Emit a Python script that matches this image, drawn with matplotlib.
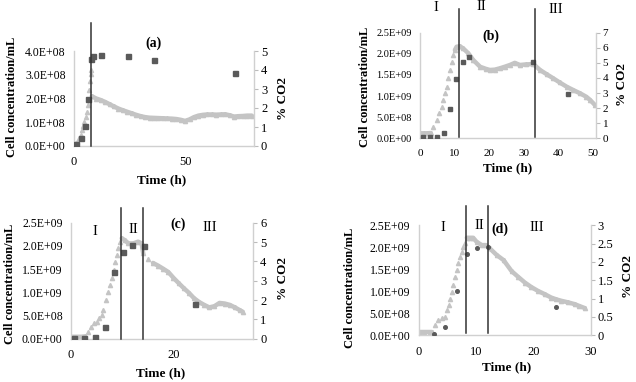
import matplotlib
matplotlib.use("Agg")
import matplotlib.pyplot as plt

plt.rcParams['font.family'] = ['Liberation Serif', 'DejaVu Serif']

# ---------------- data ----------------
# panel (a)
cell_a_t = [0.8, 3.0, 5.0, 6.2, 7.7, 8.7, 12.0, 24.2, 36.2, 72.3]
cell_a_v = [0.08e8, 0.32e8, 0.84e8, 1.98e8, 3.65e8, 3.79e8, 3.83e8, 3.80e8, 3.63e8, 3.09e8]
co2_a_t = [0, 1.2, 2.3, 3.0, 3.8, 4.2, 4.7, 5.3, 5.7, 6.2, 6.6, 6.9, 7.2, 7.5, 7.7,
           8, 10, 12, 14, 16, 18, 20, 22, 24, 26, 28, 30, 32, 34, 36, 38, 40, 42, 44, 46, 48,
           50, 52, 54, 56, 58, 60, 62, 64, 66, 68, 70, 72, 74, 76, 78, 80]
co2_a_v = [0.14, 0.23, 0.4, 0.58, 0.84, 1.05, 1.28, 1.54, 1.8, 2.16, 2.42, 2.95, 3.4, 3.8, 4.0,
           2.62, 2.5, 2.42, 2.32, 2.2, 2.08, 1.97, 1.88, 1.8, 1.72, 1.64,
           1.57, 1.52, 1.49, 1.48, 1.47, 1.46, 1.45, 1.44, 1.42, 1.38,
           1.32, 1.4, 1.52, 1.6, 1.64, 1.66, 1.66, 1.65, 1.66, 1.67,
           1.62, 1.55, 1.57, 1.58, 1.6, 1.6]

# panel (b)
cell_b_t = [0.7, 2.8, 4.7, 6.8, 8.6, 10.3, 12.2, 14.2, 32.6, 42.6]
cell_b_v = [0.02e9, 0.02e9, 0.04e9, 0.12e9, 0.69e9, 1.40e9, 1.81e9, 1.92e9, 1.80e9, 1.05e9]
co2_b_t = [0, 1, 2, 3, 3.8, 4.7, 5.5, 6.2, 6.6, 7.1, 7.6, 8.1, 8.6, 9.1, 9.5, 10.0, 10.5,
           11.4, 12.4, 13.9, 15.3, 17.3, 19, 20.1, 21.5, 23, 24.5,
           25.9, 27.3, 28.8, 30.6, 32.7, 34.6, 36.5, 38.4, 40.3, 42.3,
           44.2, 46.2, 48, 49.1, 50.5]
co2_b_v = [0.33, 0.33, 0.33, 0.35, 0.77, 1.21, 1.66, 2.1, 2.54, 2.98, 3.42, 3.98, 4.53, 5.08, 5.52, 5.85, 6.07,
           6.1, 5.96, 5.63, 5.19, 4.74, 4.6, 4.53, 4.55, 4.64, 4.75,
           4.86, 5.0, 4.86, 4.9, 4.92, 4.53, 4.25, 3.98, 3.7, 3.42,
           3.2, 2.98, 2.75, 2.54, 2.2]

# panel (c)
cell_c_t = [0.5, 2.5, 4.6, 6.6, 8.4, 10.1, 12.0, 14.3, 24.2]
cell_c_v = [0.01e9, 0.01e9, 0.04e9, 0.245e9, 1.43e9, 1.875e9, 2.02e9, 2.0e9, 0.75e9]
co2_c_t = [0, 1, 2, 2.7, 3.4, 4.0, 4.4, 5.0, 5.5, 6.0, 6.3, 6.8, 7.3, 7.6,
           7.95, 8.3, 8.6, 8.9, 9.2, 9.6, 9.9, 10.5, 11.2, 12.2,
           13.1, 13.8, 14.1, 15.0, 16, 17, 18, 19, 20, 21,
           22, 23, 24, 25, 26, 27, 28, 29, 30, 31, 32, 33, 33.5]
co2_c_v = [0.1, 0.1, 0.1, 0.12, 0.36, 0.62, 0.8, 0.88, 1.05, 1.23, 1.48, 2.0, 2.43, 2.78,
           3.12, 3.55, 3.98, 4.33, 4.68, 5.02, 5.19, 5.1, 4.93, 4.93,
           5.02, 4.93, 4.42, 4.1, 3.92, 3.78, 3.62, 3.45, 3.15, 2.88,
           2.62, 2.38, 2.1, 1.9, 1.75, 1.62, 1.68, 1.85, 1.82, 1.75, 1.62, 1.47, 1.4]

# panel (d)
cell_d_t = [2.7, 4.6, 6.6, 8.4, 10.1, 12.0, 23.9]
cell_d_v = [0.03e9, 0.18e9, 1.0e9, 1.84e9, 1.99e9, 2.01e9, 0.64e9]
co2_d_t = [0, 1, 2, 2.3, 2.8, 3.4, 4.0, 4.5, 4.9, 5.2, 5.5, 5.8, 6.0, 6.3,
           6.6, 6.9, 7.2, 7.5, 7.8, 8.1, 8.4, 9.0, 9.5, 10.1,
           11.0, 11.7, 12.4, 13.6, 14.8, 16.2, 17.3, 18.5, 19.6, 20.8,
           22, 23.1, 24, 24.9, 26, 27.2, 28, 29]
co2_d_v = [0.1, 0.1, 0.1, 0.1, 0.28, 0.42, 0.46, 0.51, 0.69, 0.83, 1.0, 1.19, 1.37, 1.6,
           1.78, 1.96, 2.14, 2.28, 2.42, 2.51, 2.66, 2.66, 2.66, 2.55,
           2.46, 2.46, 2.37, 2.19, 2.05, 1.75, 1.6, 1.44, 1.32, 1.21,
           1.12, 1.03, 0.98, 0.94, 0.9, 0.85, 0.8, 0.74]

# axis ticks / labels
yt_a = [0, 1e8, 2e8, 3e8, 4e8]
yl_a = ["0.0E+00", "1.0E+08", "2.0E+08", "3.0E+08", "4.0E+08"]
yt_b = [0, 0.5e9, 1.0e9, 1.5e9, 2.0e9, 2.5e9]
yl_b = ["0.0E+00", "5.0E+08", "1.0E+09", "1.5E+09", "2.0E+09", "2.5E+09"]
rt_a = [0, 1, 2, 3, 4, 5]
rt_b = [0, 1, 2, 3, 4, 5, 6, 7]
rt_c = [0, 1, 2, 3, 4, 5, 6]
rt_d = [0, 0.5, 1, 1.5, 2, 2.5, 3]
rl_d = ["0", "0.5", "1", "1.5", "2", "2.5", "3"]
xt_a = [0, 50]
xt_b = [0, 10, 20, 30, 40, 50]
xt_c = [0, 20]
xt_d = [0, 10, 20, 30]
phase_lines_a = [7.7]
phase_lines_b = [11.2, 33.2]
phase_lines_c = [9.7, 14.0]
phase_lines_d = [8.2, 12.1]

# ---------------- drawing ----------------
W, H = 636, 382
fig = plt.figure(figsize=(W / 100, H / 100), dpi=100)

SPINE = '#d0d0d0'
TRI = '#c4c4c4'
SQ = '#5a5a5a'


def px_rect(l, r, top, bot):
    return [l / W, 1 - bot / H, (r - l) / W, (bot - top) / H]


def ftext(x, y, s, **kw):
    fig.text(x / W, 1 - y / H, s, ha='center', va='center', **kw)


def panel(rect, xlim, xt, yt, yl, ylim, rt, rl, rlim, ct, cv, gt, gv, segs,
          vlines, vext, cell_marker, cell_ms, ylab_px, rlab_px, xlab_px, tick_fs):
    ax = fig.add_axes(rect)
    ax2 = ax.twinx()
    ax.set_zorder(ax2.get_zorder() + 1)
    ax.patch.set_visible(False)
    ax.set_xlim(*xlim)
    ax.set_ylim(*ylim)
    ax2.set_ylim(*rlim)
    for a in (ax, ax2):
        a.spines['top'].set_visible(False)
        for s in ('left', 'right', 'bottom'):
            a.spines[s].set_color(SPINE)
            a.spines[s].set_linewidth(1.0)
    ax.spines['right'].set_visible(False)
    ax2.spines['left'].set_visible(False)
    ax2.spines['bottom'].set_visible(False)

    ax.set_xticks(xt)
    ax.set_yticks(yt)
    ax.set_yticklabels(yl)
    ax2.set_yticks(rt)
    if rl is not None:
        ax2.set_yticklabels(rl)
    ax.tick_params(axis='y', length=0, pad=6, labelsize=tick_fs)
    ax.tick_params(axis='x', length=0, pad=7.5, labelsize=tick_fs + 0.5)
    ax2.tick_params(axis='y', length=3, width=0.8, color='#bbbbbb', pad=2, labelsize=tick_fs + 0.5)

    # CO2 (right axis): thick line segments plus triangle markers
    for a0, a1 in segs:
        ax2.plot(gt[a0:a1], gv[a0:a1], color=TRI, lw=3.2, solid_capstyle='round', zorder=2)
    ax2.plot(gt, gv, ls='none', marker='^', ms=3, color=TRI, mec=TRI, zorder=2)

    # cell concentration (left axis)
    ax.plot(ct, cv, ls='none', marker=cell_marker, ms=cell_ms, color=SQ, mec=SQ, zorder=4)

    for x in vlines:
        ax.axvline(x, ymin=vext[0], ymax=vext[1], color='#333333', lw=1.1, clip_on=False, zorder=5)

    ftext(*ylab_px, 'Cell concentration/mL', fontsize=9, fontweight='bold', rotation=90)
    ftext(*rlab_px, '% CO2', fontsize=9.5, fontweight='bold', rotation=90)
    ftext(*xlab_px, 'Time (h)', fontsize=9.5, fontweight='bold')
    return ax


# (a)
ax_a = panel(px_rect(74, 254, 51, 146), (0, 81), xt_a, yt_a, yl_a, (0, 4e8), rt_a, None, (0, 5),
             cell_a_t, cell_a_v, co2_a_t, co2_a_v, [(15, None)],
             phase_lines_a, (0, 1.295), 's', 3.6,
             (12, 97), (283, 98), (162, 180), 8.5)
ax_a.text(0.444, 1.084, '(a)', transform=ax_a.transAxes, ha='center', va='center',
          fontsize=10, fontweight='bold')

# (b)
ax_b = panel(px_rect(420.3, 595.7, 32.7, 138.3), (0, 50.7), xt_b, yt_b, yl_b, (0, 2.5e9), rt_b, None, (0, 7),
             cell_b_t, cell_b_v, co2_b_t, co2_b_v, [(0, 4), (15, None)],
             phase_lines_b, (0.01, 1.224), 's', 3.4,
             (364.7, 87), (622, 85), (508, 168), 7.5)
ax_b.text(0.405, 0.962, '(b)', transform=ax_b.transAxes, ha='center', va='center',
          fontsize=10, fontweight='bold')
for s, x, y in [('I', 0.091, 1.24), ('II', 0.348, 1.247), ('III', 0.775, 1.22)]:
    ax_b.text(x, y, s, transform=ax_b.transAxes, ha='center', va='center', fontsize=10.5)

# (c)
ax_c = panel(px_rect(71, 253.3, 222.7, 338.7), (0, 35.6), xt_c, yt_b, yl_b, (0, 2.5e9), rt_c, None, (0, 6),
             cell_c_t, cell_c_v, co2_c_t, co2_c_v, [(0, 4), (20, 27), (28, None)],
             phase_lines_c, (0.0, 1.13), 's', 3.6,
             (10, 284), (283, 279), (160.7, 373), 8.5)
ax_c.text(0.589, 0.986, '(c)', transform=ax_c.transAxes, ha='center', va='center',
          fontsize=10, fontweight='bold')
for s, x, y in [('I', 0.132, 0.928), ('II', 0.342, 0.943), ('III', 0.762, 0.957)]:
    ax_c.text(x, y, s, transform=ax_c.transAxes, ha='center', va='center', fontsize=10.5)

# (d)
ax_d = panel(px_rect(418.7, 590.7, 225.3, 335.3), (0, 30), xt_d, yt_b, yl_b, (0, 2.5e9), rt_d, rl_d, (0, 3),
             cell_d_t, cell_d_v, co2_d_t, co2_d_v, [(0, 4), (20, None)],
             phase_lines_d, (0.024, 1.175), 'o', 2.6,
             (349.7, 287.7), (628, 276), (506.3, 367.7), 8.5)
ax_d.text(0.471, 0.964, '(d)', transform=ax_d.transAxes, ha='center', va='center',
          fontsize=10, fontweight='bold')
for s, x, y in [('I', 0.141, 0.978), ('II', 0.355, 0.994), ('III', 0.684, 0.978)]:
    ax_d.text(x, y, s, transform=ax_d.transAxes, ha='center', va='center', fontsize=10.5)

fig.savefig('out.png', dpi=100)
